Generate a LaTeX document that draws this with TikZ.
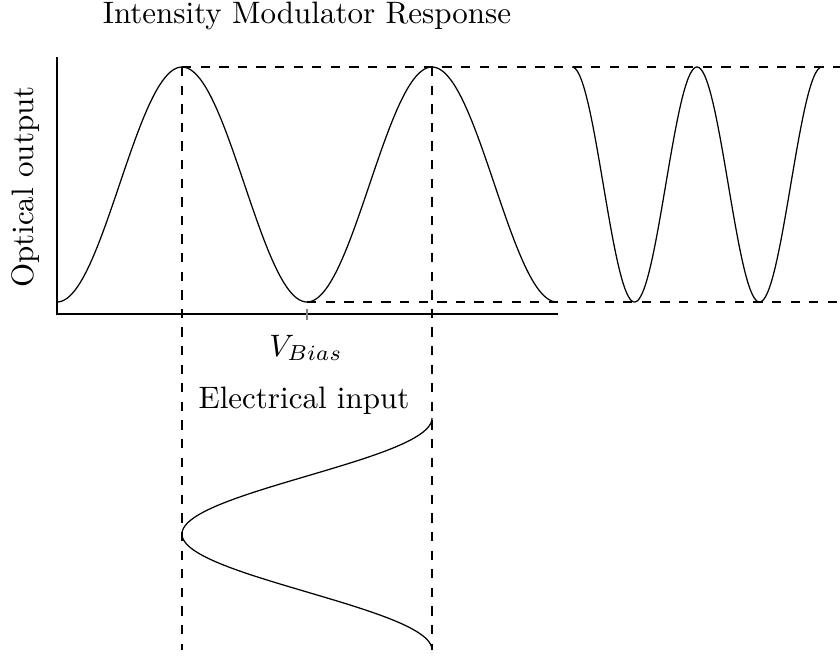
\documentclass[tikz,border=0pt]{standalone}
\begin{document}
\begin{tikzpicture}[x=0.3226pt,y=-0.3226pt,
  dashline/.style={dashed, line width=0.4pt},
  curve/.style={line width=0.4pt},
  axisline/.style={line width=0.4pt},
  lbl/.style={inner sep=0pt, anchor=base}]
\useasboundingbox (0,0) rectangle (840,657);
% key points
\coordinate (o) at (57,314);
\coordinate (ytop) at (57,57);
\coordinate (xend) at (558,314);
\coordinate (p1) at (182,67);
\coordinate (p2) at (432,67);
\coordinate (m1) at (307,302);
\coordinate (rtop) at (840,67);
\coordinate (rbot) at (840,302);
\coordinate (b1) at (182,650);
\coordinate (b2) at (432,650);
\coordinate (tk1) at (307,309);
\coordinate (tk2) at (307,320);
% axes
\draw[axisline] (ytop) -- (o) -- (xend);
\draw[gray, line width=0.4pt] (tk1) -- (tk2);
% transfer curve
\draw[curve] plot[domain=57:557, samples=200, smooth] ({\x},{302-117.5*(1-cos(1.44*(\x-57)))});
% output curve
\draw[curve] plot[domain=572:822, samples=200, smooth] ({\x},{302-117.5*(1+cos(2.88*(\x-572)))});
% input curve
\draw[curve] plot[domain=418:650, samples=200, smooth] ({307+125*cos(1.55172*(\x-418))},{\x});
% dashed guides
\draw[dashline] (p1) -- (rtop);
\draw[dashline] (m1) -- (rbot);
\draw[dashline] (p1) -- (b1);
\draw[dashline] (p2) -- (b2);
% labels
\node[lbl] (title) at (307,23) {Intensity Modulator Response};
\node[lbl, rotate=90] (ylab) at (33.5,187) {Optical output};
\node[lbl] (vbias) at (306,356) {$V_{Bias}$};
\node[lbl] (xlab) at (304,408) {Electrical input};
\end{tikzpicture}
\end{document}
